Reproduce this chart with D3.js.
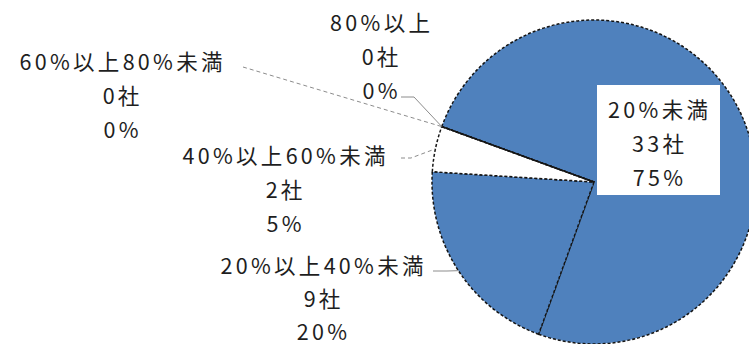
<!DOCTYPE html>
<html>
<head>
<meta charset="utf-8">
<script src="https://cdn.jsdelivr.net/npm/d3@7"></script>
<style>
  body { margin: 0; background: #fff; }
  svg { display: block; }
  text { font-family: "Noto Sans CJK JP", "Noto Sans", sans-serif; fill: #1e1e1e; }
</style>
</head>
<body>
<div id="chart"></div>
<script>
// data
const categories = ['20%未満', '20%以上40%未満', '40%以上60%未満', '60%以上80%未満', '80%以上'];
const counts = [33, 9, 2, 0, 0];
const unit = '社';
const sliceColors = ['#4f81bd', '#4f81bd', '#ffffff', '#ffffff', '#ffffff'];

const width = 749, height = 344;

// layout of the pie and of each label (centre x, first line y)
const cx = 594, cy = 182, radius = 162;
const startDeg = -70;
const lineGap = 34;
const fontSize = 21.5, spacing = 3.3;
const labelPos = [
  {x: 658, y: 108, box: true},
  {x: 322, y: 264, lead: [[433, 271], [447, 271]], dash: false, gap: 33},
  {x: 284, y: 154, lead: [[401, 158], [411, 158]], dash: true},
  {x: 121, y: 60, lead: [[243, 67]], dash: true},
  {x: 380, y: 21, lead: [[401, 97], [414, 97]], dash: false}
];

const total = d3.sum(counts);
const data = categories.map((c, i) => ({name: c, count: counts[i], pct: Math.round(counts[i] / total * 100)}));

const svg = d3.select('#chart').append('svg')
  .attr('width', width)
  .attr('height', height);

const pie = d3.pie()
  .value(d => d.count)
  .sort(null)
  .startAngle(startDeg * Math.PI / 180)
  .endAngle((startDeg + 360) * Math.PI / 180);

const arcs = pie(data);

const arc = d3.arc().innerRadius(0).outerRadius(radius);

const g = svg.append('g').attr('transform', `translate(${cx},${cy})`);

g.selectAll('path.slice')
  .data(arcs)
  .enter()
  .append('path')
  .attr('class', 'slice')
  .attr('d', arc)
  .style('fill', (d, i) => sliceColors[i])
  .style('stroke', '#141414')
  .style('stroke-width', 1.5)
  .style('stroke-dasharray', '3,2');

// point on the rim in the middle of a slice
function rimPoint(d) {
  const a = (d.startAngle + d.endAngle) / 2;
  return [cx + radius * Math.sin(a), cy - radius * Math.cos(a)];
}

// leader lines
arcs.forEach((d, i) => {
  const p = labelPos[i];
  if (!p.lead) return;
  const pts = p.lead.concat([rimPoint(d)]);
  svg.append('path')
    .attr('d', d3.line()(pts))
    .style('fill', 'none')
    .style('stroke', '#8c8c8c')
    .style('stroke-width', 1)
    .style('stroke-dasharray', p.dash ? '4,3' : null);
});

// label boxes and texts
arcs.forEach((d, i) => {
  const p = labelPos[i];
  if (p.box) {
    svg.append('rect')
      .attr('x', 597).attr('y', 85)
      .attr('width', 123).attr('height', 110)
      .style('fill', '#fff');
  }
  const lines = [d.data.name, d.data.count + unit, d.data.pct + '%'];
  const gap = p.gap || lineGap;
  svg.append('g')
    .selectAll('text')
    .data(lines)
    .enter()
    .append('text')
    .attr('x', p.x + spacing / 2)
    .attr('y', (t, j) => p.y + j * gap)
    .attr('text-anchor', 'middle')
    .attr('dominant-baseline', 'central')
    .style('font-size', fontSize + 'px')
    .style('letter-spacing', spacing + 'px')
    .text(t => t);
});
</script>
</body>
</html>
